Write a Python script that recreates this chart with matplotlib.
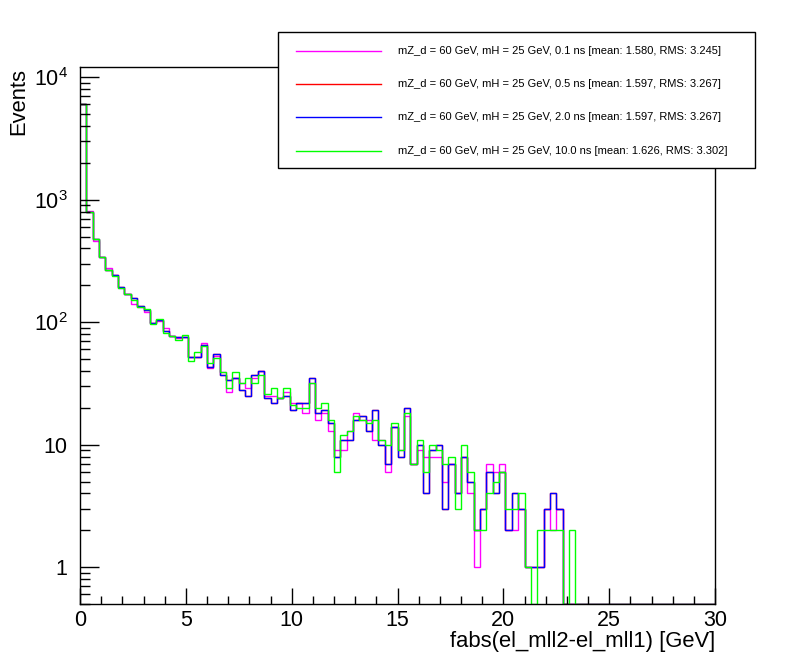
import numpy as np
import matplotlib
matplotlib.use("Agg")
import matplotlib.pyplot as plt
from matplotlib.patches import Rectangle
from matplotlib.lines import Line2D
from matplotlib.ticker import FixedLocator, NullFormatter, FuncFormatter

plt.rcParams['font.family'] = ['Liberation Sans', 'DejaVu Sans']
plt.rcParams['mathtext.default'] = 'regular'

# ---------------- data ----------------
n_bins = 100
x_min, x_max = 0.0, 30.0

lifetimes = ["0.1", "0.5", "2.0", "10.0"]
means = [1.580, 1.597, 1.597, 1.626]
rmss = [3.245, 3.267, 3.267, 3.302]
colors = ["#ff00ff", "#ff0000", "#0000ff", "#00ff00"]

counts_01ns = [6050, 808, 459, 342, 275, 244, 190, 169, 140, 134,
               120, 99, 103, 90, 77, 74, 76, 52, 52, 68,
               42, 53, 39, 27, 35, 32, 29, 35, 40, 25,
               25, 24, 27, 22, 22, 18, 32, 16, 18, 13,
               9, 9, 13, 18, 16, 16, 11, 11, 6, 14,
               9, 17, 7, 9, 8, 8, 8, 5, 7, 4,
               8, 4, 1, 3, 7, 6, 7, 2, 2, 3,
               1, 1, 1, 3, 2, 3]
counts_20ns = [6000, 800, 480, 342, 266, 241, 192, 171, 156, 135,
               126, 98, 105, 84, 77, 75, 75, 52, 52, 65,
               43, 55, 37, 34, 35, 28, 25, 37, 40, 24,
               22, 24, 25, 19, 22, 22, 35, 18, 19, 15,
               8, 11, 11, 16, 17, 13, 19, 10, 7, 14,
               8, 20, 7, 10, 4, 9, 10, 3, 7, 4,
               8, 5, 2, 3, 6, 4, 6, 2, 4, 3,
               1, 1, 1, 3, 4, 3]
counts_05ns = list(counts_20ns)
counts_100ns = [6000, 800, 474, 340, 264, 238, 189, 169, 153, 134,
                129, 97, 106, 81, 77, 71, 78, 48, 57, 64,
                46, 51, 39, 29, 39, 32, 35, 32, 37, 26,
                29, 24, 29, 21, 20, 20, 32, 20, 22, 16,
                6, 12, 13, 17, 16, 15, 16, 11, 10, 15,
                9, 18, 7, 11, 6, 10, 9, 7, 8, 3,
                10, 6, 2, 2, 4, 5, 6, 3, 3, 4,
                1, 0, 2, 2, 2, 2, 0, 2]

series = [counts_01ns, counts_05ns, counts_20ns, counts_100ns]

# ---------------- figure ----------------
W, H = 796, 672
fig = plt.figure(figsize=(W / 100, H / 100), dpi=100)
fig.patch.set_facecolor("white")

ax_l, ax_r, ax_t, ax_b = 80, 715, 67, 604
ax = fig.add_axes([ax_l / W, 1 - ax_b / H, (ax_r - ax_l) / W, (ax_b - ax_t) / H])
ax.set_yscale("log")
y_lo = 0.5
y_hi = 2 * max(max(s) for s in series)
ax.set_xlim(x_min, x_max)
ax.set_ylim(y_lo, y_hi)

edges = np.linspace(x_min, x_max, n_bins + 1)
for vals, col in zip(series, colors):
    v = np.zeros(n_bins)
    v[:len(vals)] = vals
    ax.stairs(np.maximum(v, y_lo), edges, baseline=None, color=col, lw=1.0)

for sp in ax.spines.values():
    sp.set_linewidth(1.0)

# ticks (ROOT style, inside, bottom/left only)
ax.xaxis.set_major_locator(FixedLocator(np.arange(0, 31, 5)))
ax.xaxis.set_minor_locator(FixedLocator(np.arange(0, 31, 1)))
ax.xaxis.set_major_formatter(FuncFormatter(lambda v, p: f"{int(v)}"))
dec = [1, 10, 100, 1000, 10000]
ax.yaxis.set_major_locator(FixedLocator(dec))
minors = [m * d for d in [0.1, 1, 10, 100, 1000] for m in range(2, 10)]
ax.yaxis.set_minor_locator(FixedLocator(minors))
ax.yaxis.set_minor_formatter(NullFormatter())


def yfmt(v, p):
    e = int(round(np.log10(v)))
    if e == 0:
        return "1"
    if e == 1:
        return "10"
    return r"$10^{%d}$" % e


ax.yaxis.set_major_formatter(FuncFormatter(yfmt))
ax.tick_params(axis="x", which="major", direction="in", length=11.5, width=1.0,
               labelsize=15.5, pad=4, top=False)
ax.tick_params(axis="x", which="minor", direction="in", length=5.8, width=1.0, top=False)
ax.tick_params(axis="y", which="major", direction="in", length=13.7, width=1.0,
               labelsize=15.5, pad=9, right=False)
ax.tick_params(axis="y", which="minor", direction="in", length=6.9, width=1.0, right=False)

# axis titles
fig.text(ax_r / W, 1 - 641 / H, "fabs(el_mll2-el_mll1) [GeV]", ha="right", va="center",
         fontsize=15.8)
fig.text(19 / W, 1 - 68 / H, "Events", rotation=90, ha="center", va="top", fontsize=15.8)

# legend box
lx0, lx1, ly0, ly1 = 278, 755, 32, 168
fig.add_artist(Rectangle((lx0 / W, 1 - ly1 / H), (lx1 - lx0) / W, (ly1 - ly0) / H,
                         transform=fig.transFigure, facecolor="white", edgecolor="black",
                         lw=1.0, zorder=5))
rows = [51, 84, 117, 151]
for lt, mu, rm, col, ry in zip(lifetimes, means, rmss, colors, rows):
    fig.add_artist(Line2D([296 / W, 381 / W], [1 - ry / H, 1 - ry / H],
                          transform=fig.transFigure, color=col, lw=1.0, zorder=6))
    fig.text(398 / W, 1 - ry / H,
             f"mZ_d = 60 GeV, mH = 25 GeV, {lt} ns [mean: {mu:.3f}, RMS: {rm:.3f}]",
             ha="left", va="center", fontsize=8.0, zorder=7)

fig.savefig("out.png", dpi=100)
